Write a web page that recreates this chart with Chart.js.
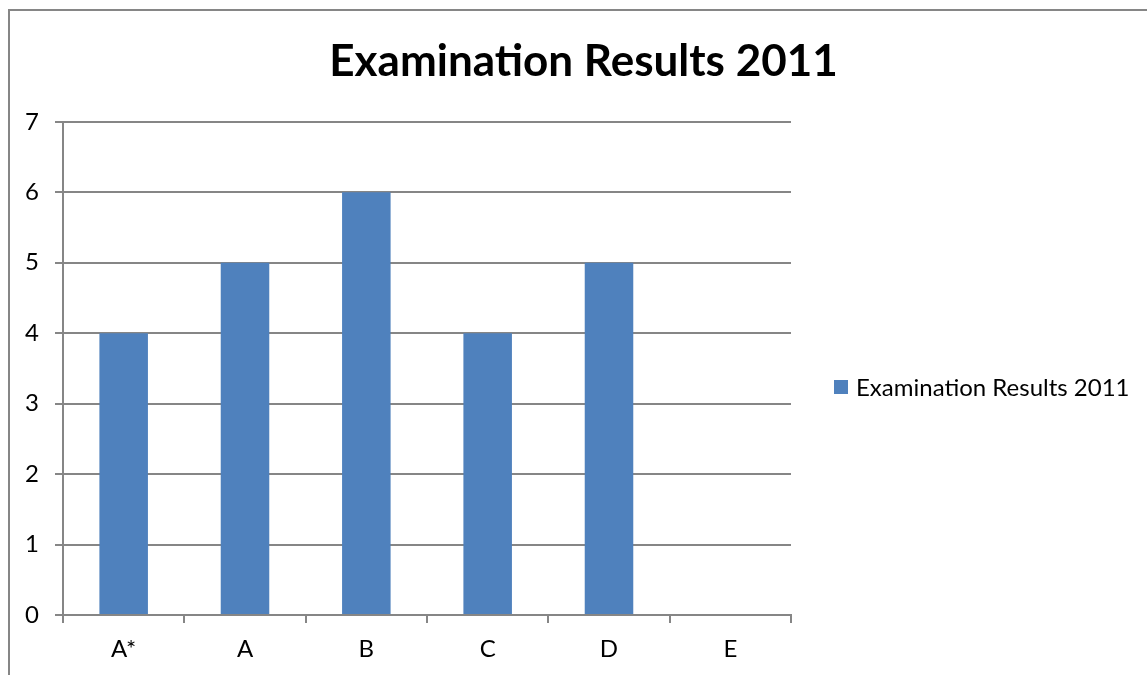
<!DOCTYPE html>
<html>
<head>
<meta charset="utf-8">
<script src="https://cdn.jsdelivr.net/npm/chart.js@4"></script>
<style>
  body { margin: 0; background: #fff; }
  #wrap { width: 1147px; height: 675px; }
</style>
</head>
<body>
<div id="wrap"><canvas id="results"></canvas></div>
<script>
const grades = ['A*', 'A', 'B', 'C', 'D', 'E'];
const pupils = [4, 5, 6, 4, 5, 0];
const series_name = 'Examination Results 2011';
const y_ticks = [0, 1, 2, 3, 4, 5, 6, 7];

const bar_blue = '#4F81BD';
const line_grey = '#868686';
const font_family = 'Lato, "Open Sans", sans-serif';

// outer frame of the sheet-style chart (only top and left edge are visible)
const framePlugin = {
  id: 'frame',
  beforeDraw(chart) {
    const ctx = chart.ctx;
    ctx.save();
    ctx.strokeStyle = line_grey;
    ctx.lineWidth = 2;
    ctx.beginPath();
    ctx.moveTo(9, chart.height);
    ctx.lineTo(9, 10);
    ctx.lineTo(chart.width, 10);
    ctx.stroke();
    ctx.restore();
  }
};

// legend to the right of the plot, one entry
const sideLegend = {
  id: 'sideLegend',
  afterDraw(chart) {
    const ctx = chart.ctx;
    ctx.save();
    ctx.fillStyle = bar_blue;
    ctx.fillRect(834, 380, 14, 14);
    ctx.fillStyle = '#000';
    ctx.font = '24px ' + font_family;
    ctx.textBaseline = 'middle';
    ctx.textAlign = 'left';
    ctx.fillText(chart.data.datasets[0].label, 856, 388);
    ctx.restore();
  }
};

const ctx = document.querySelector('#results').getContext('2d');
new Chart(ctx, {
  type: 'bar',
  data: {
    labels: grades,
    datasets: [{
      label: series_name,
      data: pupils,
      backgroundColor: bar_blue,
      borderWidth: 0,
      barPercentage: 0.4,
      categoryPercentage: 1
    }]
  },
  plugins: [framePlugin, sideLegend],
  options: {
    responsive: true,
    maintainAspectRatio: false,
    animation: false,
    layout: { padding: { top: 10, left: 20, right: 0, bottom: 0 } },
    scales: {
      x: {
        grid: { offset: true, drawOnChartArea: false, drawTicks: true, tickLength: 8, color: line_grey, lineWidth: 2 },
        border: { color: line_grey, width: 2 },
        ticks: { color: '#000', font: { family: font_family, size: 24 }, padding: 12 },
        afterFit: s => { s.height = 60; }
      },
      y: {
        min: 0,
        max: 7,
        afterBuildTicks: s => { s.ticks = y_ticks.map(v => ({ value: v })); },
        grid: { color: line_grey, lineWidth: 2, tickLength: 8 },
        border: { color: line_grey, width: 2 },
        ticks: { color: '#000', font: { family: font_family, size: 24 }, padding: 16 },
        afterFit: s => { s.width = 43; }
      },
      // empty right-hand axis that keeps room for the legend
      legendSpace: {
        type: 'linear',
        position: 'right',
        grid: { drawOnChartArea: false, drawTicks: false },
        border: { display: false },
        ticks: { display: false },
        afterFit: s => { s.width = 356; }
      }
    },
    plugins: {
      legend: { display: false },
      tooltip: { enabled: false },
      title: {
        display: true,
        text: series_name,
        color: '#000',
        font: { family: font_family, size: 44, weight: 'bold', lineHeight: 1.2 },
        padding: { top: 25, bottom: 34 }
      }
    }
  }
});
</script>
</body>
</html>
